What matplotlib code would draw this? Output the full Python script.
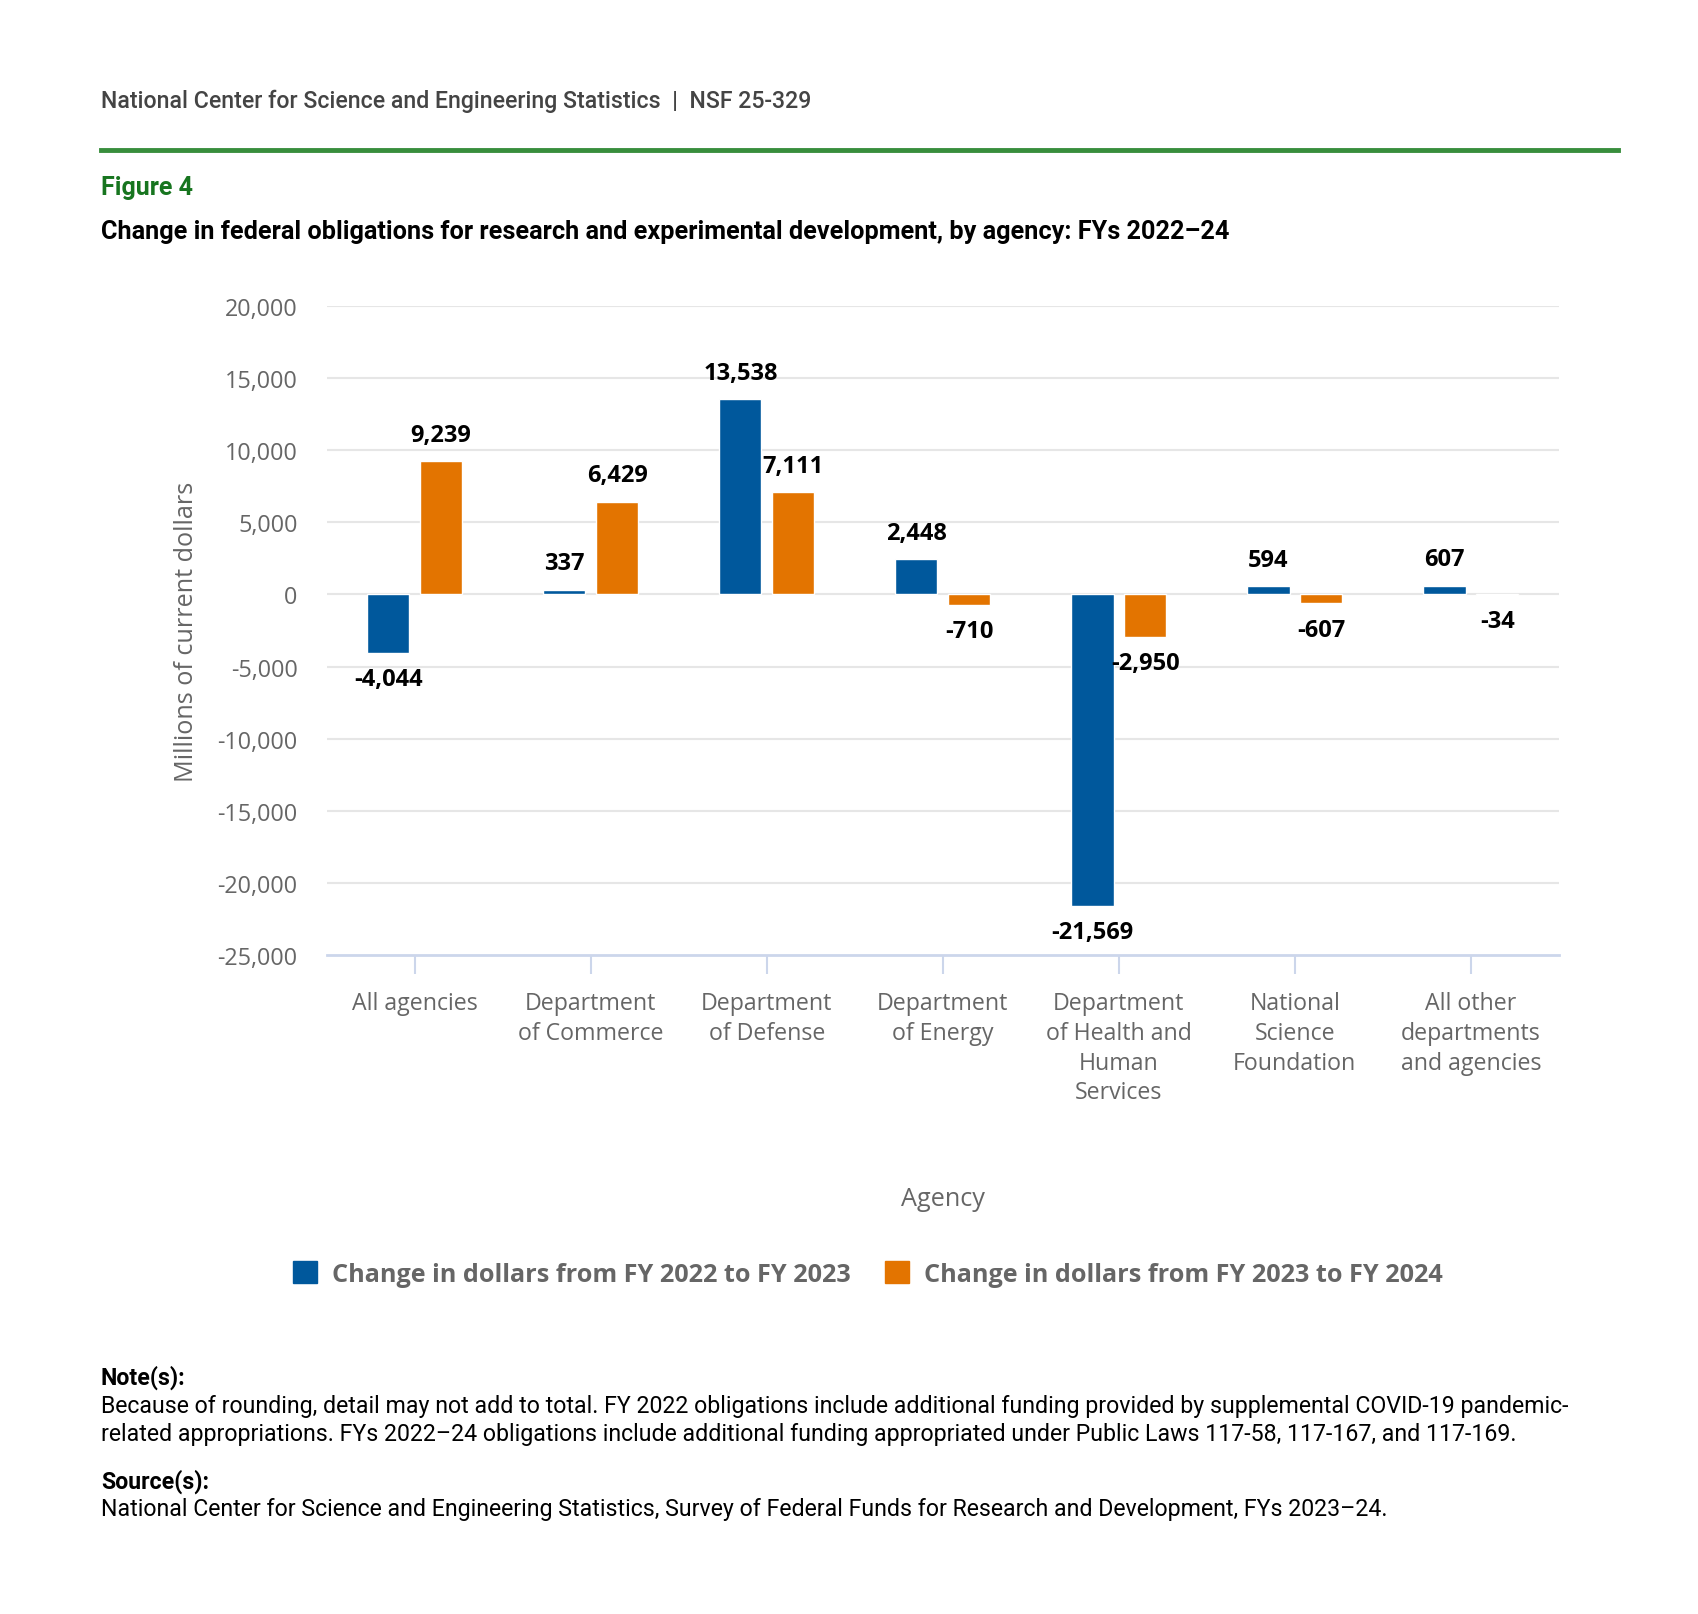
import numpy as np
import matplotlib.pyplot as plt
from matplotlib.patches import Patch

# Datos (millones de dólares corrientes)
agencias = [
    "All agencies",
    "Department\nof Commerce",
    "Department\nof Defense",
    "Department\nof Energy",
    "Department\nof Health and\nHuman\nServices",
    "National\nScience\nFoundation",
    "All other\ndepartments\nand agencies",
]
cambio_22_23 = [-4044, 337, 13538, 2448, -21569, 594, 607]
cambio_23_24 = [9239, 6429, 7111, -710, -2950, -607, -34]
yticks = [20000, 15000, 10000, 5000, 0, -5000, -10000, -15000, -20000, -25000]

azul = "#00589c"
naranja = "#e37400"
gris = "#666666"

fig = plt.figure(figsize=(16.99, 16.15), dpi=100)
ax = fig.add_axes([0.1923, 0.4080, 0.7252, 0.4019])

x = np.arange(len(agencias))
w = 0.24
b1 = ax.bar(x - 0.15, cambio_22_23, w, color=azul, edgecolor="white", linewidth=1, zorder=3)
b2 = ax.bar(x + 0.15, cambio_23_24, w, color=naranja, edgecolor="white", linewidth=1, zorder=3)

# Etiquetas de valores
for barras, vals in ((b1, cambio_22_23), (b2, cambio_23_24)):
    for rect, v in zip(barras, vals):
        cx = rect.get_x() + rect.get_width() / 2
        off = 19 if v >= 0 else -19
        ax.annotate(f"{v:,}", (cx, v), xytext=(0, off), textcoords="offset points",
                    ha="center", va="center", fontsize=17, fontweight="bold",
                    family="Open Sans", color="black", zorder=4)

ax.set_xlim(-0.5, len(agencias) - 0.5)
ax.set_ylim(-25000, 20000)
ax.set_yticks(yticks)
ax.set_yticklabels([f"{t:,}" for t in yticks], family="Open Sans", fontsize=16.8, color=gris)
ax.set_xticks(x)
ax.set_xticklabels(agencias, family="Open Sans", fontsize=16.7, color=gris, linespacing=1.32)

ax.tick_params(axis="y", length=0, pad=21)
ax.tick_params(axis="x", length=14, width=1.5, color="#ccd6eb", pad=12)

for t in yticks[:-1]:
    ax.axhline(t, color="#e6e6e6", linewidth=1.5, zorder=1)

for s in ["top", "right", "left"]:
    ax.spines[s].set_visible(False)
ax.spines["bottom"].set_color("#ccd6eb")
ax.spines["bottom"].set_linewidth(2)

fig.text(0.1097, 0.609, "Millions of current dollars", rotation=90, ha="center", va="center",
         family="Open Sans", fontsize=18.2, color=gris)
fig.text(0.5548, 0.2573, "Agency", ha="center", va="center", family="Open Sans",
         fontsize=18.2, color=gris)

# Leyenda
handles = [Patch(color=azul, label="Change in dollars from FY 2022 to FY 2023"),
           Patch(color=naranja, label="Change in dollars from FY 2023 to FY 2024")]
fig.legend(handles=handles, loc="center", bbox_to_anchor=(0.5106, 0.2105), ncol=2,
           frameon=False, handlelength=0.95, handleheight=0.95, handletextpad=0.6,
           columnspacing=1.35, labelcolor=gris,
           prop={"family": "Open Sans", "weight": "bold", "size": 18.2})

# Encabezado
fig.text(0.0594, 0.9375, "National Center for Science and Engineering Statistics  |  NSF 25-329",
         ha="left", va="center", family="Roboto", fontweight="medium", fontsize=16.7,
         color="#444444")
fig.add_artist(plt.Line2D([0.0594, 0.9523], [0.9063, 0.9063], color="#388e3c", linewidth=3.5))
fig.text(0.0594, 0.8839, "Figure 4", ha="left", va="center", family="Roboto",
         fontweight="bold", fontsize=18, color="#17751f")
fig.text(0.0594, 0.8561,
         "Change in federal obligations for research and experimental development, by agency: FYs 2022\u201324",
         ha="left", va="center", family="Roboto", fontweight="bold", fontsize=18.2, color="black")

# Notas y fuentes
nota = dict(ha="left", va="center", family="Roboto", fontsize=16.7, color="black")
fig.text(0.0594, 0.1466, "Note(s):", fontweight="bold", **nota)
fig.text(0.0594, 0.1290,
         "Because of rounding, detail may not add to total. FY 2022 obligations include additional funding provided by supplemental COVID-19 pandemic-",
         **nota)
fig.text(0.0594, 0.1120,
         "related appropriations. FYs 2022\u201324 obligations include additional funding appropriated under Public Laws 117-58, 117-167, and 117-169.",
         **nota)
fig.text(0.0594, 0.0828, "Source(s):", fontweight="bold", **nota)
fig.text(0.0594, 0.0652,
         "National Center for Science and Engineering Statistics, Survey of Federal Funds for Research and Development, FYs 2023\u201324.",
         **nota)

fig.savefig("out.png", dpi=100, facecolor="white")
